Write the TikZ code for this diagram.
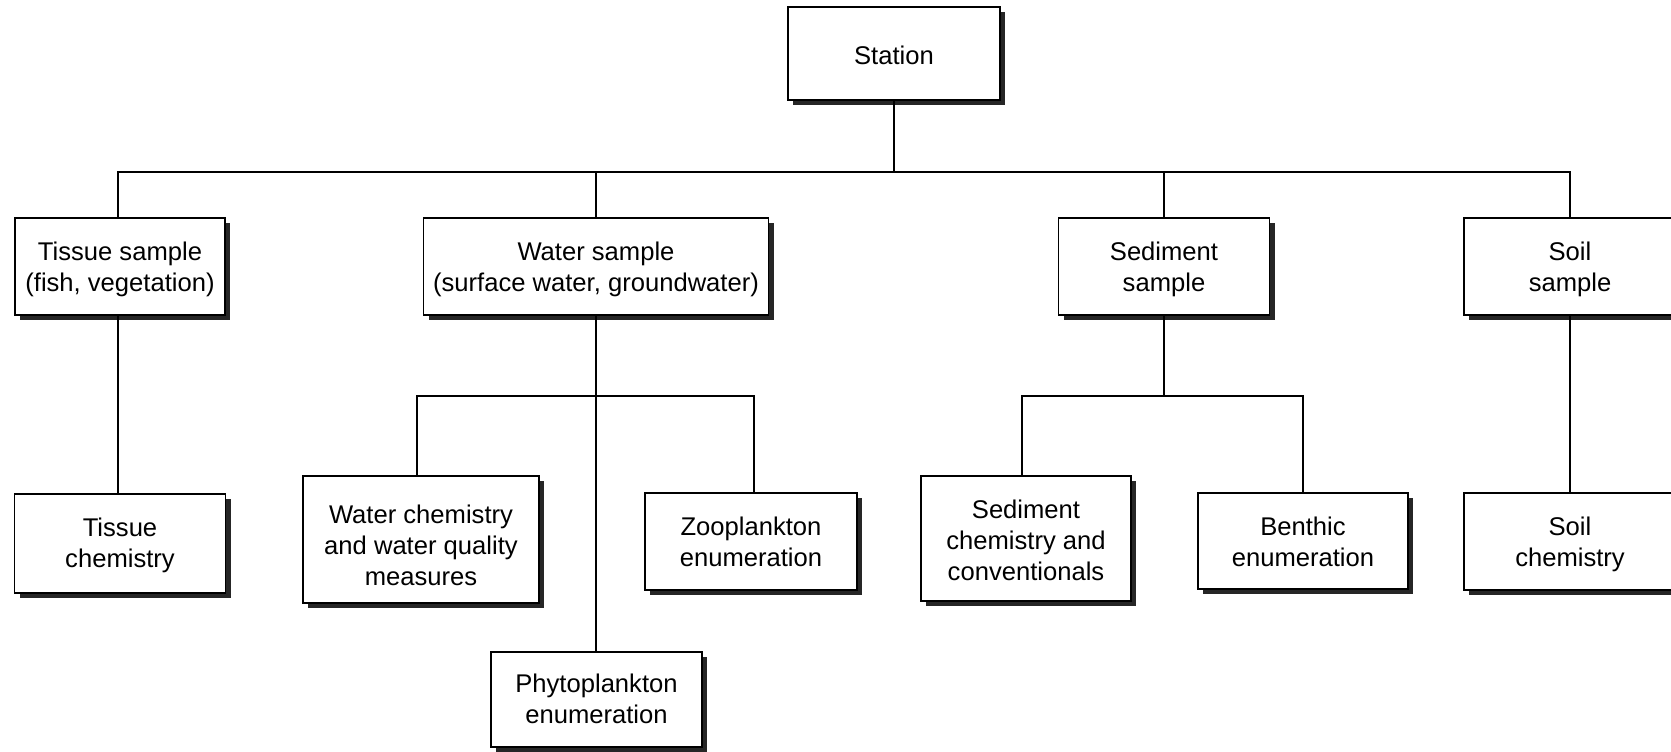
\documentclass[tikz,border=0pt]{standalone}
\usepackage{fontspec}
\setmainfont{Liberation Sans}
\usetikzlibrary{shadows}
\begin{document}
\begin{tikzpicture}[x=0.5pt,y=-0.5pt,
  box/.style={draw=black, line width=0.8pt, fill=white, align=center,
    inner xsep=0pt, inner ysep=0pt,
    font=\fontsize{12.8}{15.5}\selectfont,
    drop shadow={shadow xshift=2.6pt, shadow yshift=-2.6pt, fill=black!85, opacity=1}},
  sz/.style 2 args={minimum width=#1*0.5pt, minimum height=#2*0.5pt},
  tb/.style 2 args={text height=#1, text depth=#2},
  link/.style={draw=black, line width=0.9pt}]
\useasboundingbox (0,0) rectangle (1671,751);
\clip (0,0) rectangle (1671,751);

% top level
\node[box, sz={212}{93}, tb={28.5pt}{18pt}] (station) at (894,53.5) {Station};

% sample types
\node[box, sz={210}{97}, tb={36.5pt}{12pt}] (tissue)   at (120,266.5)  {Tissue sample\\(fish, vegetation)};
\node[box, sz={345}{97}, tb={36.5pt}{12pt}] (water)    at (596,266.5)  {Water sample\\(surface water, groundwater)};
\node[box, sz={211}{97}, tb={36.5pt}{12pt}] (sediment) at (1164,266.5) {Sediment\\sample};
\node[box, sz={212}{97}, tb={36.5pt}{12pt}] (soil)     at (1570,266.5) {Soil\\sample};

% analyses
\node[box, sz={211}{99},  tb={36.5pt}{13pt}]     (tchem)    at (120,543.5)   {Tissue\\chemistry};
\node[box, sz={236}{127}, tb={54.5pt}{9pt}]      (wchem)    at (421,539.5)   {Water chemistry\\and water quality\\measures};
\node[box, sz={212}{97},  tb={36.5pt}{12pt}]     (zoo)      at (751,541.5)   {Zooplankton\\enumeration};
\node[box, sz={211}{95},  tb={35.75pt}{11.75pt}] (phyto)    at (596.5,699.5) {Phytoplankton\\enumeration};
\node[box, sz={210}{125}, tb={52.1pt}{10.4pt}]   (schem)    at (1026,538.5)  {Sediment\\chemistry and\\conventionals};
\node[box, sz={210}{96},  tb={36.5pt}{11.5pt}]   (benthic)  at (1303,541)    {Benthic\\enumeration};
\node[box, sz={212}{97},  tb={36.5pt}{12pt}]     (soilchem) at (1570,541.5)  {Soil\\chemistry};

% bus lines
\coordinate (bus)  at (0,172);
\coordinate (sbus) at (0,396);

\draw[link] (station.south) -- (station.south |- bus);
\draw[link] ([xshift=-1pt]tissue.north) -- ([xshift=-1pt]tissue.north |- bus)
  -- (soil.north |- bus) -- (soil.north);
\draw[link] (water.north) -- (water.north |- bus);
\draw[link] (sediment.north) -- (sediment.north |- bus);

\draw[link] ([xshift=-1pt]tissue.south) -- ([xshift=-1pt]tchem.north);
\draw[link] (soil.south) -- (soilchem.north);

\draw[link] (water.south) -- (water.south |- phyto.north);
\draw[link] ([xshift=-2pt]wchem.north) -- ([xshift=-2pt]wchem.north |- sbus)
  -- ([xshift=1.5pt]zoo.north |- sbus) -- ([xshift=1.5pt]zoo.north);

\draw[link] (sediment.south) -- (sediment.south |- sbus);
\draw[link] ([xshift=-2pt]schem.north) -- ([xshift=-2pt]schem.north |- sbus)
  -- (benthic.north |- sbus) -- (benthic.north);
\end{tikzpicture}
\end{document}
